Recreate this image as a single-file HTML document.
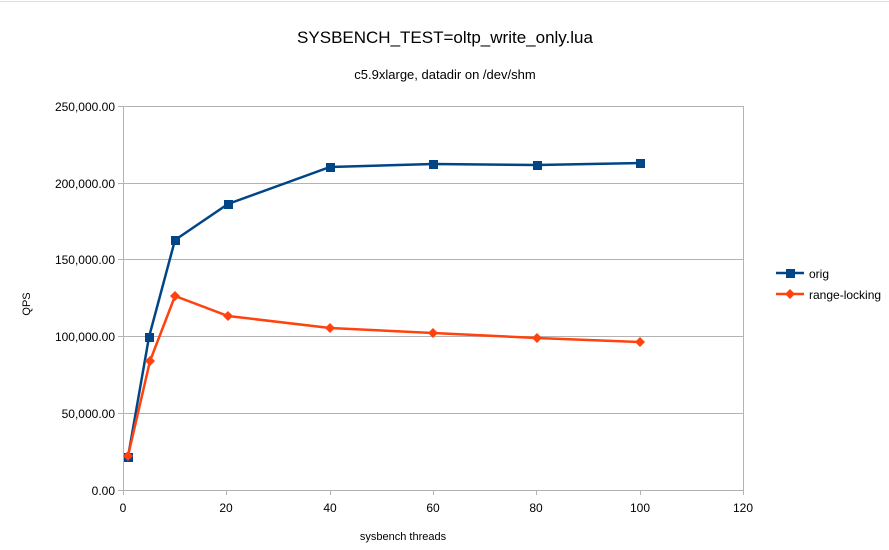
<!DOCTYPE html>
<html><head><style>body{margin:0;background:#fff}svg{display:block}</style></head><body>
<svg width="889" height="550" xmlns="http://www.w3.org/2000/svg" font-family="Liberation Sans, sans-serif">
<rect width="889" height="550" fill="#fff"/>
<line x1="0" y1="1.5" x2="889" y2="1.5" stroke="#ddd"/>
<text x="445" y="43" font-size="17" text-anchor="middle" fill="#000">SYSBENCH_TEST=oltp_write_only.lua</text>
<text x="445" y="79" font-size="13" text-anchor="middle" fill="#000">c5.9xlarge, datadir on /dev/shm</text>
<g stroke="#b3b3b3" stroke-width="1">
<line x1="123" y1="106.5" x2="743" y2="106.5"/>
<line x1="123" y1="183.5" x2="743" y2="183.5"/>
<line x1="123" y1="259.5" x2="743" y2="259.5"/>
<line x1="123" y1="336.5" x2="743" y2="336.5"/>
<line x1="123" y1="413.5" x2="743" y2="413.5"/>
<line x1="123" y1="490.5" x2="743" y2="490.5"/>
<line x1="123.5" y1="106" x2="123.5" y2="495"/>
<line x1="743.5" y1="106" x2="743.5" y2="495"/>
<line x1="226.5" y1="490" x2="226.5" y2="495"/>
<line x1="330.5" y1="490" x2="330.5" y2="495"/>
<line x1="433.5" y1="490" x2="433.5" y2="495"/>
<line x1="536.5" y1="490" x2="536.5" y2="495"/>
<line x1="640.5" y1="490" x2="640.5" y2="495"/>
<line x1="118" y1="106.5" x2="123" y2="106.5"/>
<line x1="118" y1="183.5" x2="123" y2="183.5"/>
<line x1="118" y1="259.5" x2="123" y2="259.5"/>
<line x1="118" y1="336.5" x2="123" y2="336.5"/>
<line x1="118" y1="413.5" x2="123" y2="413.5"/>
<line x1="118" y1="490.5" x2="123" y2="490.5"/>
</g>
<g font-size="12" text-anchor="end" fill="#000">
<text x="115" y="111">250,000.00</text>
<text x="115" y="188">200,000.00</text>
<text x="115" y="264">150,000.00</text>
<text x="115" y="341">100,000.00</text>
<text x="115" y="418">50,000.00</text>
<text x="115" y="495">0.00</text>
</g>
<g font-size="12" text-anchor="middle" fill="#000">
<text x="123" y="512">0</text>
<text x="226" y="512">20</text>
<text x="330" y="512">40</text>
<text x="433" y="512">60</text>
<text x="536" y="512">80</text>
<text x="640" y="512">100</text>
<text x="743" y="512">120</text>
<text x="403" y="540" font-size="11">sysbench threads</text>
</g>
<text transform="translate(30,304) rotate(-90)" font-size="11" text-anchor="middle">QPS</text>
<polyline fill="none" stroke="#004586" stroke-width="2.5" points="128,457 149,337 175,240 228,204 330,167 433,164 537,165 640,163"/>
<g fill="#004586">
<rect x="124" y="453" width="9" height="9"/><rect x="145" y="333" width="9" height="9"/><rect x="171" y="236" width="9" height="9"/><rect x="224" y="200" width="9" height="9"/><rect x="326" y="163" width="9" height="9"/><rect x="429" y="160" width="9" height="9"/><rect x="533" y="161" width="9" height="9"/><rect x="636" y="159" width="9" height="9"/>
</g>
<polyline fill="none" stroke="#ff420e" stroke-width="2.5" points="128,456 150,361 175,296 228,316 330,328 433,333 537,338 640,342"/>
<g fill="#ff420e">
<path d="M128 451l5 5-5 5-5-5z"/><path d="M150 356l5 5-5 5-5-5z"/><path d="M175 291l5 5-5 5-5-5z"/><path d="M228 311l5 5-5 5-5-5z"/><path d="M330 323l5 5-5 5-5-5z"/><path d="M433 328l5 5-5 5-5-5z"/><path d="M537 333l5 5-5 5-5-5z"/><path d="M640 337l5 5-5 5-5-5z"/>
</g>
<line x1="776" y1="273" x2="804" y2="273" stroke="#004586" stroke-width="2.5"/>
<rect x="786" y="269" width="9" height="9" fill="#004586"/>
<text x="809" y="278" font-size="12">orig</text>
<line x1="776" y1="294" x2="804" y2="294" stroke="#ff420e" stroke-width="2.5"/>
<path d="M790 289l5 5-5 5-5-5z" fill="#ff420e"/>
<text x="809" y="299" font-size="12">range-locking</text>
</svg>
</body></html>
